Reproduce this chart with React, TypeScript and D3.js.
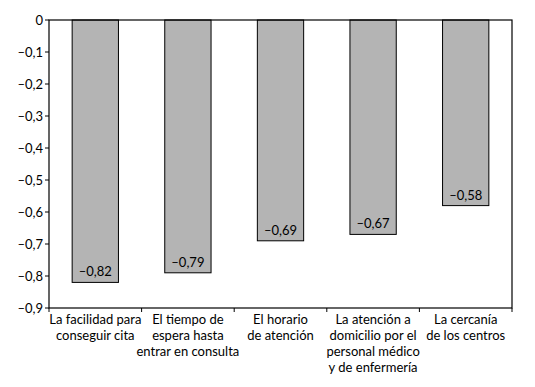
import React from "react";
import * as d3 from "d3";

const categories: string[][] = [
  ["La facilidad para", "conseguir cita"],
  ["El tiempo de", "espera hasta", "entrar en consulta"],
  ["El horario", "de atención"],
  ["La atención a", "domicilio por el", "personal médico", "y de enfermería"],
  ["La cercanía", "de los centros"],
];
const values = [-0.82, -0.79, -0.69, -0.67, -0.58];
const yTicks = [0, -0.1, -0.2, -0.3, -0.4, -0.5, -0.6, -0.7, -0.8, -0.9];

const fmt = (v: number) => (v === 0 ? "0" : "\u2013" + Math.abs(v).toFixed(v === 0 ? 0 : 2).replace(/0$/, "").replace(".", ","));
const fmtVal = (v: number) => "\u2013" + Math.abs(v).toFixed(2).replace(".", ",");

export default function App() {
  const W = 535, H = 387;
  const left = 49, right = 512, top = 20, bottom = 308;
  const x = d3.scaleBand<number>().domain(d3.range(values.length)).range([left, right]).paddingInner(0).paddingOuter(0);
  const y = d3.scaleLinear().domain([0, -0.9]).range([top, bottom]);
  const bw = x.bandwidth() * 0.5;
  const font = "Lato, 'Open Sans', sans-serif";
  return (
    <svg width={W} height={H} style={{ position: "absolute", left: 0, top: 0 }} fontFamily={font}>
      <rect x={0} y={0} width={W} height={H} fill="#fff" />
      {values.map((v, i) => {
        const cx = (x(i) as number) + x.bandwidth() / 2;
        return (
          <g key={i}>
            <rect x={cx - bw / 2} y={y(0)} width={bw} height={y(v) - y(0)} fill="#b4b4b4" stroke="#000" strokeWidth={1} />
            <text x={cx} y={y(v) - 6} textAnchor="middle" fontSize={13} fill="#000">{fmtVal(v)}</text>
          </g>
        );
      })}
      <rect x={left} y={top} width={right - left} height={bottom - top} fill="none" stroke="#000" strokeWidth={1.2} />
      {yTicks.map((t) => (
        <g key={t}>
          <line x1={left - 4} x2={left} y1={y(t)} y2={y(t)} stroke="#000" strokeWidth={1} />
          <text x={left - 6} y={y(t)} dy="0.35em" textAnchor="end" fontSize={13} fill="#000">{fmt(t)}</text>
        </g>
      ))}
      {d3.range(values.length + 1).map((i) => {
        const xx = i < values.length ? (x(i) as number) : right;
        return <line key={i} x1={xx} x2={xx} y1={bottom} y2={bottom + 4} stroke="#000" strokeWidth={1} />;
      })}
      {categories.map((lines, i) => {
        const cx = (x(i) as number) + x.bandwidth() / 2;
        return (
          <text key={i} textAnchor="middle" fontSize={13} fill="#000">
            {lines.map((l, j) => (
              <tspan key={j} x={cx} y={324 + j * 16}>{l}</tspan>
            ))}
          </text>
        );
      })}
    </svg>
  );
}
